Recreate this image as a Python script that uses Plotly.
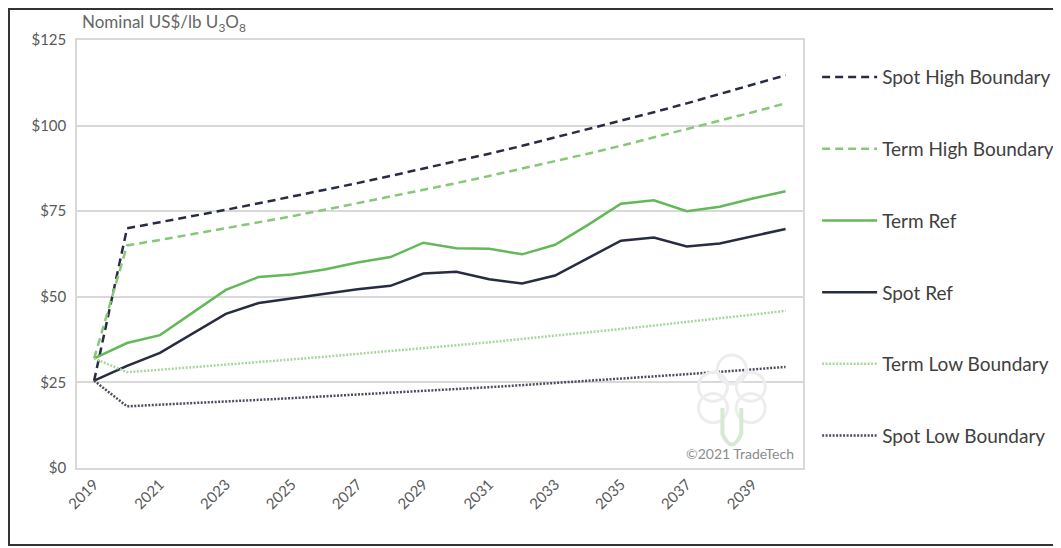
import plotly.graph_objects as go

years = list(range(2019, 2041))

spot_high = [25.5, 70, 71.8, 73.5, 75.4, 77.3, 79.2, 81.2, 83.2, 85.3, 87.4,
             89.6, 91.8, 94.1, 96.5, 98.9, 101.4, 103.9, 106.5, 109.2, 111.9, 114.7]
term_high = [32, 65, 66.6, 68.3, 70.0, 71.7, 73.5, 75.4, 77.3, 79.2, 81.2,
             83.2, 85.3, 87.4, 89.6, 91.8, 94.1, 96.5, 98.9, 101.4, 103.9, 106.5]
term_ref = [32, 36.5, 38.8, 45.5, 52, 55.8, 56.5, 58, 60, 61.6, 65.8,
            64.2, 64, 62.4, 65.2, 71, 77.2, 78.2, 75, 76.3, 78.7, 80.8]
spot_ref = [25.5, 29.8, 33.6, 39.3, 45, 48.2, 49.6, 51, 52.2, 53.2, 56.8,
            57.3, 55.1, 53.9, 56.2, 61.3, 66.4, 67.3, 64.7, 65.6, 67.6, 69.8]
term_low = [32, 28, 28.7, 29.4, 30.2, 30.9, 31.7, 32.5, 33.3, 34.1, 35.0,
            35.8, 36.7, 37.7, 38.6, 39.6, 40.6, 41.6, 42.6, 43.7, 44.8, 45.9]
spot_low = [25.5, 18, 18.5, 18.9, 19.4, 19.9, 20.4, 20.9, 21.4, 21.9, 22.5,
            23.0, 23.6, 24.2, 24.8, 25.4, 26.1, 26.7, 27.4, 28.1, 28.8, 29.5]

x_ticks = list(range(2019, 2040, 2))
y_ticks = [0, 25, 50, 75, 100, 125]
y_labels = ["$0", "$25", "$50", "$75", "$100", "$125"]

NAVY = "#282c42"
GREEN = "#62b957"
GREEN_LIGHT = "#86c878"
GREEN_PALE = "#a9d69c"
SPOT_DOT = "#4a4d5e"

series = [
    ("Spot High Boundary", spot_high, dict(color=NAVY, width=2.5, dash="8px,5px")),
    ("Term High Boundary", term_high, dict(color=GREEN_LIGHT, width=2.5, dash="8px,5px")),
    ("Term Ref", term_ref, dict(color=GREEN, width=2.5)),
    ("Spot Ref", spot_ref, dict(color=NAVY, width=2.5)),
    ("Term Low Boundary", term_low, dict(color=GREEN_PALE, width=2.5, dash="2px,1.5px")),
    ("Spot Low Boundary", spot_low, dict(color=SPOT_DOT, width=2.5, dash="2px,1.5px")),
]

fig = go.Figure()
for name, vals, line in series:
    fig.add_trace(go.Scatter(x=years, y=vals, name=name, mode="lines", line=line,
                             legendgroup=name))

# page body has an 8px margin, so the figure is 8px smaller and margins shifted
fig.update_layout(
    width=1053, height=540,
    margin=dict(l=69, r=258, t=32, b=80),
    paper_bgcolor="white", plot_bgcolor="white",
    font=dict(family="Lato", color="#595959"),
    showlegend=True,
    legend=dict(xref="container", yref="container", x=0.7684, y=0.907,
                xanchor="left", yanchor="top", maxheight=1000,
                tracegroupgap=44, itemwidth=55, font=dict(size=19, color="#404040"),
                bgcolor="rgba(0,0,0,0)"),
)
fig.update_xaxes(range=[2018.48, 2040.53], tickvals=x_ticks, tickangle=-45,
                 tickfont=dict(size=15, color="#595959"),
                 showgrid=False, showline=True, linecolor="#d9d9d9", linewidth=1.5,
                 mirror=True, zeroline=False, ticks="")
fig.update_yaxes(range=[0, 125], tickvals=y_ticks, ticktext=y_labels,
                 tickfont=dict(size=15, color="#595959"),
                 showgrid=True, gridcolor="#d9d9d9", gridwidth=1.5,
                 showline=True, linecolor="#d9d9d9", linewidth=1.5, mirror=True,
                 zeroline=False, ticks="", ticklabelstandoff=6)

# axis unit label
fig.add_annotation(text="Nominal US$/lb U<sub>3</sub>O<sub>8</sub>", xref="paper", yref="paper",
                   x=0.004, y=1.0, xanchor="left", yanchor="bottom", showarrow=False,
                   yshift=3, font=dict(size=17, color="#666666"))
# watermark
fig.add_annotation(text="©2021 TradeTech", xref="paper", yref="paper",
                   x=0.99, y=0.01, xanchor="right", yanchor="bottom", showarrow=False,
                   font=dict(size=14, color="#8c8c8c"))

# faint logo made of rings
cx, cy, r = 0.902, 0.15, 0.02
for dx, dy in [(0, 0.08), (-0.026, 0.04), (0.026, 0.04), (-0.026, -0.01), (0.026, -0.01)]:
    fig.add_shape(type="circle", xref="paper", yref="paper",
                  x0=cx + dx - r, x1=cx + dx + r, y0=cy + dy - r * 1.7, y1=cy + dy + r * 1.7,
                  line=dict(color="#ededed", width=3))
fig.add_shape(type="path", xref="paper", yref="paper",
              path="M 0.889 0.14 L 0.889 0.08 Q 0.902 0.03 0.915 0.08 L 0.915 0.14",
              line=dict(color="#d6e9d2", width=4))

# outer frame
fig.add_shape(type="rect", xref="paper", yref="paper",
              x0=-0.0937, x1=1.3499, y0=-0.18, y1=1.0724,
              line=dict(color="#333333", width=2))

fig.write_html("out.html")
